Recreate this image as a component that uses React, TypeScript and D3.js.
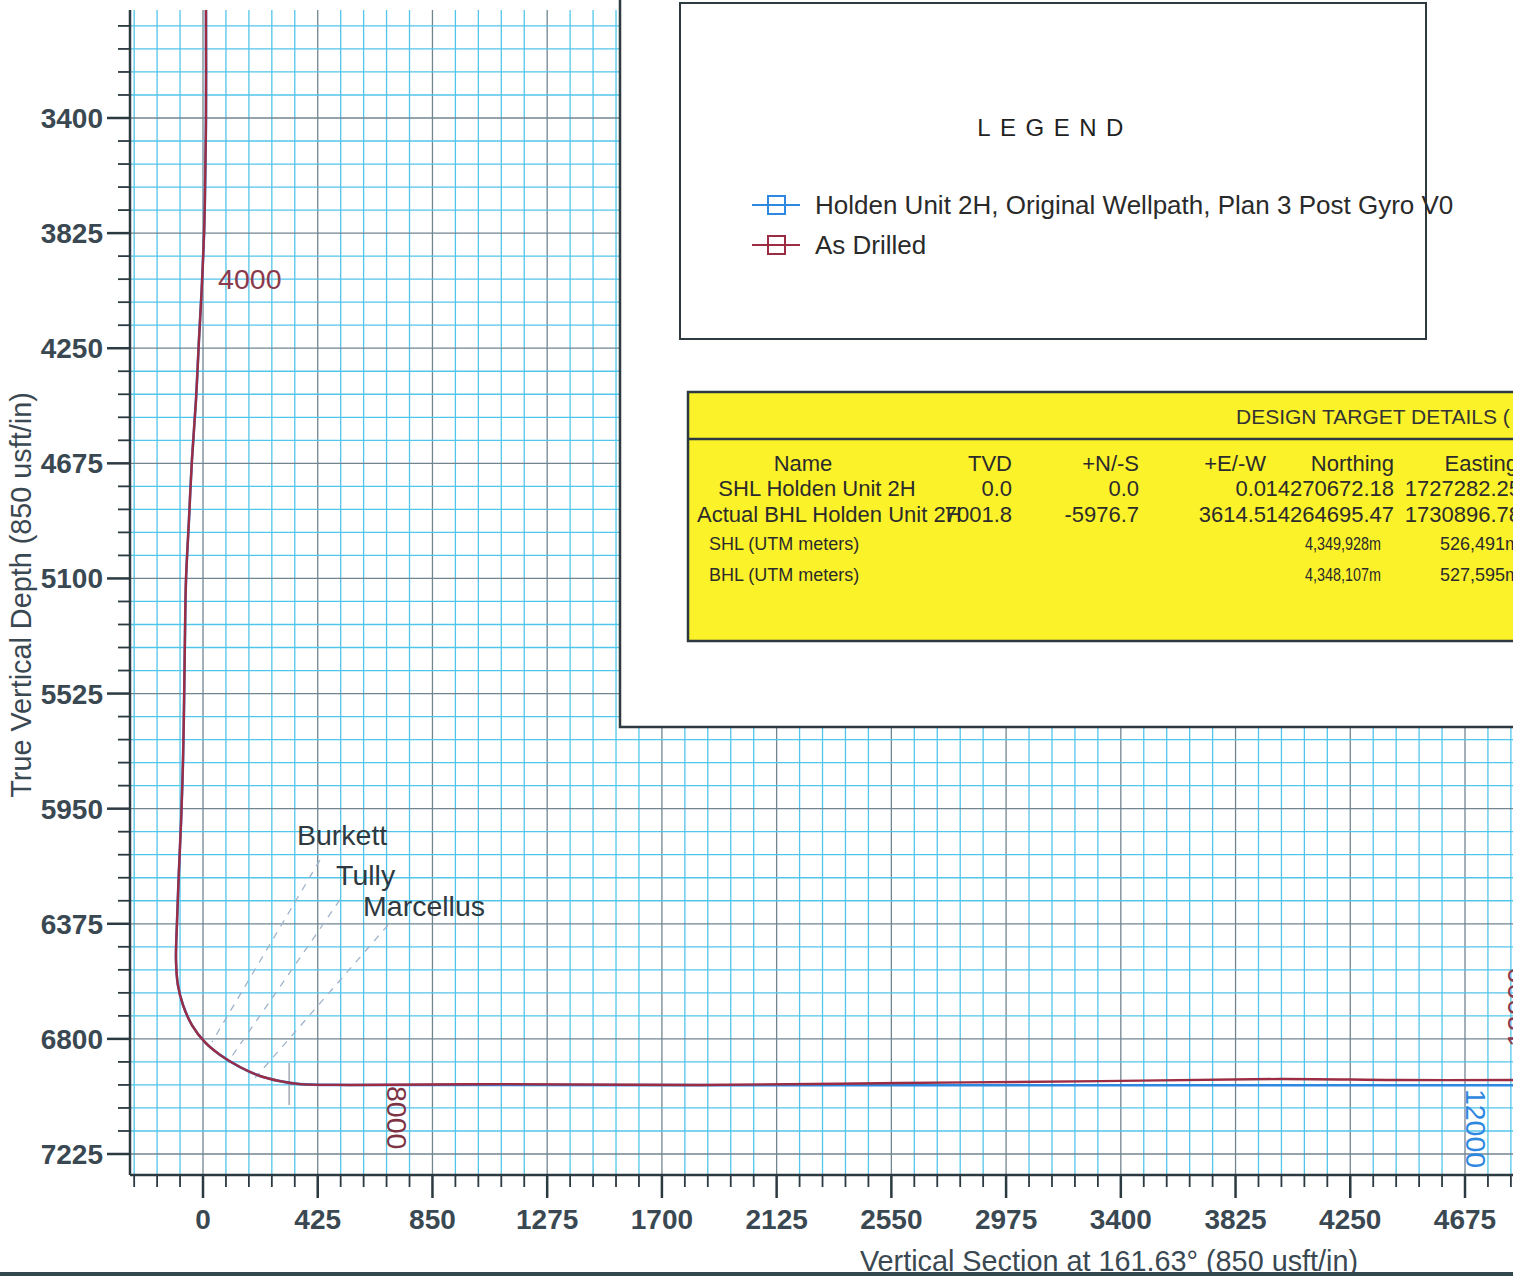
import React from "react";
import * as d3 from "d3";

// ---------- data ----------
const xMajorTicks = [0, 425, 850, 1275, 1700, 2125, 2550, 2975, 3400, 3825, 4250, 4675];
const yMajorTicks = [3400, 3825, 4250, 4675, 5100, 5525, 5950, 6375, 6800, 7225];
const minorStep = 85;

// As Drilled: vertical section (usft) and TVD (usft)
const drilledVS = [11, 11, 7, 4, -5, -15, -26, -41, -52, -63, -67, -70, -74, -81, -89, -96, -100, -93, -74, -41, 7, 63, 137, 211, 285, 359, 545, 1100, 1841, 2582, 3323, 3990, 4434, 4853];
const drilledTVD = [3001, 3400, 3703, 3825, 4035, 4220, 4441, 4663, 4884, 5106, 5327, 5549, 5770, 5992, 6176, 6361, 6509, 6601, 6675, 6749, 6812, 6859, 6904, 6937, 6956, 6967, 6970, 6967, 6970, 6963, 6956, 6948, 6952, 6952];

// Plan (Holden Unit 2H, Original Wellpath, Plan 3 Post Gyro V0)
const planVS = [11, 11, 7, 4, -5, -15, -26, -41, -52, -63, -67, -70, -74, -81, -89, -96, -100, -93, -74, -41, 7, 63, 137, 211, 285, 359, 545, 1100, 2000, 3000, 4000, 4853];
const planTVD = [3001, 3400, 3703, 3825, 4035, 4220, 4441, 4663, 4884, 5106, 5327, 5549, 5770, 5992, 6176, 6361, 6509, 6601, 6675, 6749, 6812, 6859, 6904, 6937, 6956, 6967, 6970, 6970, 6971, 6971, 6971, 6971];

// Formation tops (dashed lines) : start (upper right) and end (on wellpath)
const formationNames = ["Burkett", "Tully", "Marcellus"];
const formationStartVS = [433, 507, 685];
const formationStartTVD = [6140, 6287, 6380];
const formationEndVS = [33, 93, 193];
const formationEndTVD = [6812, 6885, 6944];
const formationLabelVS = [348, 493, 593];
const formationLabelTVD = [6084, 6232, 6346];

// Measured-depth markers
const mdLabels = ["4000", "8000", "12000"];
const mdVS = [56, 682, 4679];
const mdTVD = [4031, 6970, 6981];

// Legend
const legendNames = ["Holden Unit 2H, Original Wellpath, Plan 3 Post Gyro V0", "As Drilled"];

// Design target table
const tableTitle = "DESIGN TARGET DETAILS (";
const tableHeaders = ["Name", "TVD", "+N/-S", "+E/-W", "Northing", "Easting"];
const targetNames = ["SHL Holden Unit 2H", "Actual BHL Holden Unit 2H"];
const targetTVD = ["0.0", "7001.8"];
const targetNS = ["0.0", "-5976.7"];
const targetEW = ["0.0", "3614.5"];
const targetNorthing = ["14270672.18", "14264695.47"];
const targetEasting = ["1727282.25", "1730896.78"];
const utmNames = ["SHL (UTM meters)", "BHL  (UTM meters)"];
const utmNorthing = ["4,349,928m", "4,348,107m"];
const utmEasting = ["526,491m", "527,595m"];

// ---------- component ----------
const W = 1513;
const H = 1276;
const FONT = "'Liberation Sans', Arial, Helvetica, sans-serif";

export default function App() {
  const x = d3.scaleLinear().domain([0, 4675]).range([203, 1465]);
  const y = d3.scaleLinear().domain([3400, 7225]).range([118, 1154]);
  const left = 130, right = W, top = 10, bottom = 1175;
  const xMin = x.invert(left), xMax = x.invert(right);
  const yMin = y.invert(top), yMax = y.invert(bottom);

  const vGrid = d3.range(Math.ceil(xMin / minorStep) * minorStep, xMax, minorStep);
  const hGrid = d3.range(Math.ceil(yMin / minorStep) * minorStep, yMax, minorStep);

  const line = d3
    .line<[number, number]>()
    .x((d) => x(d[0]))
    .y((d) => y(d[1]))
    .curve(d3.curveCatmullRom.alpha(0.5));

  const drilled = drilledVS.map((v, i) => [v, drilledTVD[i]] as [number, number]);
  const plan = planVS.map((v, i) => [v, planTVD[i]] as [number, number]);

  const axisColor = "#2b3940";
  const labelColor = "#3a4852";
  const red = "#9c2c43";
  const blue = "#2f88df";

  return (
    <div style={{ position: "absolute", left: 0, top: 0, width: W, height: H, background: "#fff" }}>
      <svg width={W} height={H} style={{ display: "block", fontFamily: FONT }}>
        <defs>
          <clipPath id="plot">
            <rect x={left} y={top} width={right - left} height={bottom - top} />
          </clipPath>
        </defs>
        <rect x={0} y={0} width={W} height={H} fill="#fff" />

        {/* grid */}
        <g clipPath="url(#plot)">
          {vGrid.map((v) => {
            const major = Math.abs(v % 425) < 1e-6;
            return (
              <line key={"v" + v} x1={x(v)} x2={x(v)} y1={top} y2={bottom}
                stroke={major ? "#718591" : "#52c5ea"} strokeWidth={1.3} />
            );
          })}
          {hGrid.map((v) => {
            const major = Math.abs(v % 425) < 1e-6;
            return (
              <line key={"h" + v} x1={left} x2={right} y1={y(v)} y2={y(v)}
                stroke={major ? "#718591" : "#52c5ea"} strokeWidth={1.3} />
            );
          })}

          {/* formation tops */}
          {formationNames.map((n, i) => (
            <line key={"f" + n}
              x1={x(formationStartVS[i])} y1={y(formationStartTVD[i])}
              x2={x(formationEndVS[i])} y2={y(formationEndTVD[i])}
              stroke="#9fb3cc" strokeWidth={1.3} strokeDasharray="7,7" />
          ))}
          {/* landing marker */}
          <line x1={x(319)} x2={x(319)} y1={y(6889)} y2={y(7044)} stroke="#8a97a0" strokeWidth={1.2} />

          {/* well paths */}
          <path d={line(plan) || ""} fill="none" stroke={blue} strokeWidth={2.6} />
          <path d={line(drilled) || ""} fill="none" stroke={red} strokeWidth={2.4} />
        </g>

        {/* formation labels */}
        {formationNames.map((n, i) => (
          <text key={"fl" + n} x={x(formationLabelVS[i])} y={y(formationLabelTVD[i])}
            fontSize={28.5} fill="#2f3a40">{n}</text>
        ))}

        {/* MD labels */}
        <text x={x(mdVS[0])} y={y(mdTVD[0])} fontSize={28.5} fill="#8a3a4c">{mdLabels[0]}</text>
        <text transform={`translate(${x(mdVS[1])},${y(mdTVD[1]) + 1}) rotate(90)`} fontSize={28.5} fill="#7e3344">{mdLabels[1]}</text>
        <text transform={`translate(${x(mdVS[2])},${y(mdTVD[2]) + 1}) rotate(90)`} fontSize={28.5} fill={blue}>{mdLabels[2]}</text>
        <text transform={`translate(${x(4853) + 14},${y(6830)}) rotate(-90)`} fontSize={28.5} fill="#8a3a4c">{mdLabels[2]}</text>

        {/* axes */}
        <line x1={left} x2={left} y1={top} y2={bottom} stroke={axisColor} strokeWidth={2.5} />
        <line x1={left} x2={right} y1={bottom} y2={bottom} stroke={axisColor} strokeWidth={2.5} />
        {hGrid.map((v) => {
          const major = Math.abs(v % 425) < 1e-6;
          return (
            <line key={"yt" + v} x1={major ? 107 : 118} x2={left} y1={y(v)} y2={y(v)}
              stroke={axisColor} strokeWidth={major ? 2.5 : 1.8} />
          );
        })}
        {vGrid.map((v) => {
          const major = Math.abs(v % 425) < 1e-6;
          return (
            <line key={"xt" + v} x1={x(v)} x2={x(v)} y1={bottom} y2={major ? 1198 : 1187}
              stroke={axisColor} strokeWidth={major ? 2.5 : 1.8} />
          );
        })}
        {yMajorTicks.map((v) => (
          <text key={"yl" + v} x={103} y={y(v) + 10} textAnchor="end" fontSize={28}
            fontWeight="bold" fill={labelColor}>{v}</text>
        ))}
        {xMajorTicks.map((v) => (
          <text key={"xl" + v} x={x(v)} y={1229} textAnchor="middle" fontSize={28}
            fontWeight="bold" fill={labelColor}>{v}</text>
        ))}
        <text transform={`translate(31,595) rotate(-90)`} textAnchor="middle" fontSize={28.8}
          fill={labelColor}>True Vertical Depth (850 usft/in)</text>
        <text x={1109} y={1271} textAnchor="middle" fontSize={28.8} fill={labelColor}>
          Vertical Section at 161.63° (850 usft/in)
        </text>

        {/* white panel */}
        <path d={`M620,0 V727 H${W + 5} V0 Z`} fill="#fff" />
        <path d={`M620,0 V727 H${W + 5}`} fill="none" stroke="#2d3a40" strokeWidth={2.5} />

        {/* legend box */}
        <rect x={680} y={3} width={746} height={336} fill="none" stroke="#2d3a40" strokeWidth={2} />
        <text x={1055} y={136} textAnchor="middle" fontSize={24} letterSpacing={9.5} fill="#222">LEGEND</text>
        {legendNames.map((n, i) => {
          const cy = 205 + i * 40;
          const c = i === 0 ? blue : red;
          return (
            <g key={"lg" + i}>
              <line x1={752} x2={800} y1={cy} y2={cy} stroke={c} strokeWidth={2} />
              <rect x={768} y={cy - 9} width={17} height={18} fill="none" stroke={c} strokeWidth={2} />
              <text x={815} y={cy + 9} fontSize={26} fill="#2a2a2a">{n}</text>
            </g>
          );
        })}

        {/* design target table */}
        <rect x={688} y={392} width={W} height={249} fill="#fbf22a" stroke="#2d3a40" strokeWidth={2.5} />
        <line x1={688} x2={W} y1={439} y2={439} stroke="#2d3a40" strokeWidth={2.5} />
        <text x={1236} y={424} fontSize={21} fill="#333">{tableTitle}</text>
        <g fontSize={22} fill="#2b2b2b">
          <text x={803} y={471} textAnchor="middle">{tableHeaders[0]}</text>
          <text x={1012} y={471} textAnchor="end">{tableHeaders[1]}</text>
          <text x={1139} y={471} textAnchor="end">{tableHeaders[2]}</text>
          <text x={1266} y={471} textAnchor="end">{tableHeaders[3]}</text>
          <text x={1394} y={471} textAnchor="end">{tableHeaders[4]}</text>
          <text x={1518} y={471} textAnchor="end">{tableHeaders[5]}</text>
          {targetNames.map((n, i) => {
            const by = 496 + i * 26;
            return (
              <g key={"tr" + i}>
                {i === 0 ? (
                  <text x={817} y={by} textAnchor="middle">{n}</text>
                ) : (
                  <text x={697} y={by}>{n}</text>
                )}
                <text x={1012} y={by} textAnchor="end">{targetTVD[i]}</text>
                <text x={1139} y={by} textAnchor="end">{targetNS[i]}</text>
                <text x={1266} y={by} textAnchor="end">{targetEW[i]}</text>
                <text x={1394} y={by} textAnchor="end">{targetNorthing[i]}</text>
                <text x={1521} y={by} textAnchor="end">{targetEasting[i]}</text>
              </g>
            );
          })}
        </g>
        <g fontSize={19} fill="#2b2b2b">
          {utmNames.map((n, i) => {
            const by = 550 + i * 31;
            return (
              <g key={"utm" + i}>
                <text x={709} y={by} fontSize={18}>{n}</text>
                <text x={1305} y={by} textLength={76} lengthAdjust="spacingAndGlyphs">{utmNorthing[i]}</text>
                <text x={1440} y={by} textLength={80} lengthAdjust="spacingAndGlyphs">{utmEasting[i]}</text>
              </g>
            );
          })}
        </g>

        {/* bottom page edge */}
        <rect x={0} y={1272} width={W} height={4} fill="#34474f" />
      </svg>
    </div>
  );
}
